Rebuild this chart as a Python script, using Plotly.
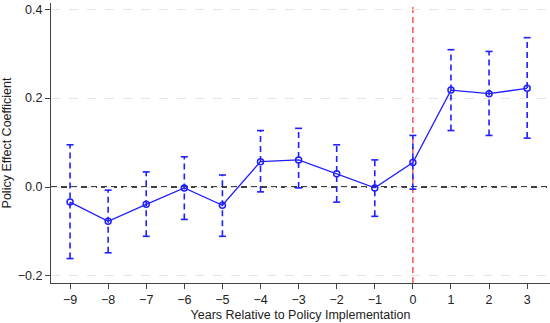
import plotly.graph_objects as go

years = [-9, -8, -7, -6, -5, -4, -3, -2, -1, 0, 1, 2, 3]
coef = [-0.034, -0.077, -0.039, -0.002, -0.041, 0.057, 0.061, 0.030, -0.002, 0.055, 0.218, 0.210, 0.222]
upper = [0.095, -0.007, 0.034, 0.068, 0.027, 0.127, 0.132, 0.095, 0.061, 0.116, 0.309, 0.305, 0.336]
lower = [-0.161, -0.148, -0.111, -0.073, -0.111, -0.011, -0.002, -0.034, -0.066, -0.005, 0.127, 0.116, 0.110]

blue = "#1f1fff"
fig = go.Figure()

# dashed CI segments
xs, ys = [], []
for x, lo, hi in zip(years, lower, upper):
    xs += [x, x, None]
    ys += [lo, hi, None]
fig.add_trace(go.Scatter(x=xs, y=ys, mode="lines",
                         line=dict(color=blue, width=1.6, dash="6px,4px"),
                         hoverinfo="skip", showlegend=False))
# caps
fig.add_trace(go.Scatter(x=years + years, y=upper + lower, mode="markers",
                         marker=dict(symbol="line-ew", size=5,
                                     line=dict(color=blue, width=1.6)),
                         hoverinfo="skip", showlegend=False))
# point estimates
fig.add_trace(go.Scatter(x=years, y=coef, mode="lines+markers",
                         line=dict(color=blue, width=1.3),
                         marker=dict(symbol="circle-open", size=6,
                                     line=dict(color=blue, width=1.5)),
                         showlegend=False))

fig.add_hline(y=0, line=dict(color="black", width=1.3, dash="6px,4px"), layer="below")
fig.add_vline(x=0, line=dict(color="#ff3b3b", width=1.3, dash="6px,4px"), layer="below")

fig.update_layout(
    width=550, height=323,
    margin=dict(l=51, r=0, t=3, b=40, autoexpand=False),
    paper_bgcolor="white", plot_bgcolor="white",
    font=dict(family="Liberation Sans, Arial, sans-serif", size=12.5, color="#222"),
    xaxis=dict(range=[-9.5, 3.6], tickmode="array", tickvals=years,
               ticktext=[str(v).replace("-", "\u2212") for v in years],
               showgrid=False, zeroline=False, automargin=False,
               showline=True, linecolor="#444", linewidth=1,
               ticks="outside", ticklen=5, tickcolor="#444",
               title=dict(text="Years Relative to Policy Implementation", standoff=4,
                          font=dict(size=12.5))),
    yaxis=dict(range=[-0.216, 0.414], tickmode="array",
               tickvals=[-0.2, 0.0, 0.2, 0.4],
               ticktext=["\u22120.2", "0.0", "0.2", "0.4"],
               showgrid=True, gridcolor="#e6e6e6", griddash="dash", gridwidth=1,
               zeroline=False, automargin=False,
               showline=True, linecolor="#444", linewidth=1,
               ticks="outside", ticklen=5, tickcolor="#444",
               title=dict(text="Policy Effect Coefficient", standoff=4,
                          font=dict(size=12.5))),
)

fig.write_html("out.html", config={"displayModeBar": False},
               post_script="document.body.style.margin='0';document.body.style.padding='0';")
